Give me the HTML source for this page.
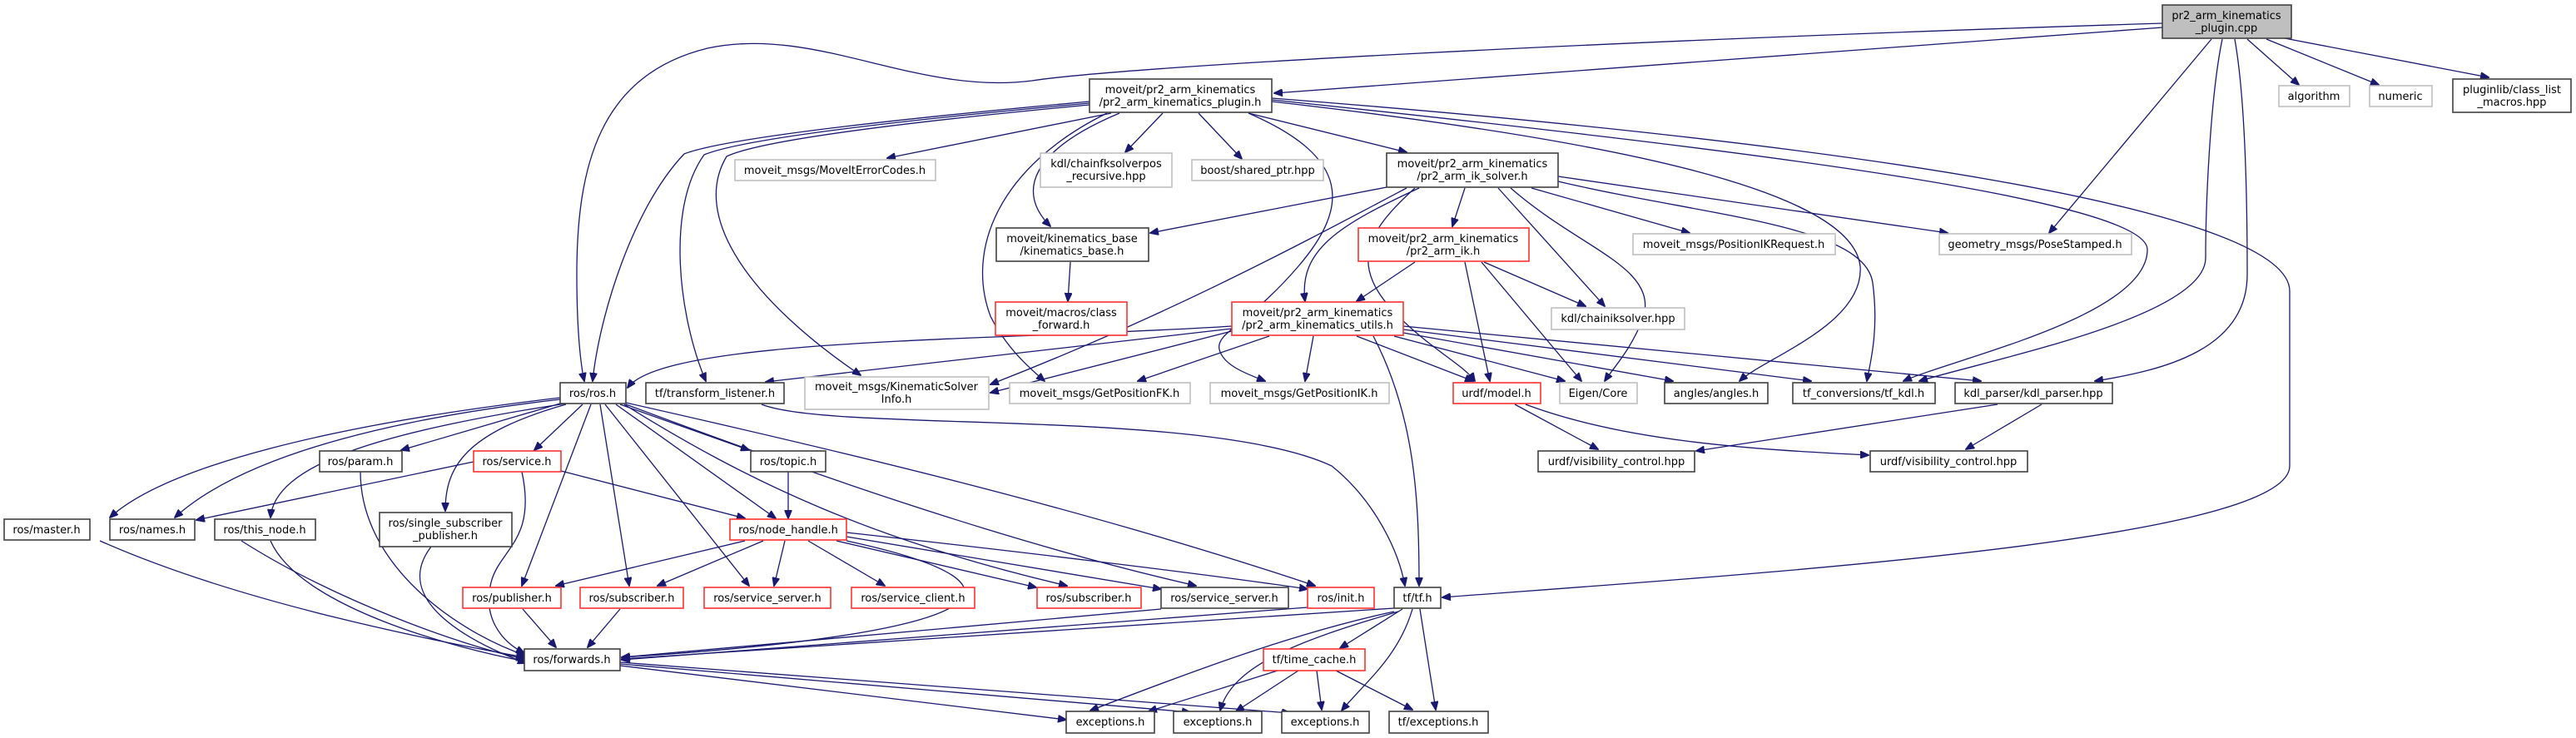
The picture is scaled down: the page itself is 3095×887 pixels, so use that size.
<!DOCTYPE html>
<html><head><meta charset="utf-8"><style>
html,body{margin:0;padding:0;background:#fff;}
svg{display:block;}
text{font-family:"DejaVu Sans","Liberation Sans",sans-serif;font-size:13px;fill:#000;text-anchor:middle;}
.e{fill:none;stroke:#191970;stroke-width:1.3;marker-end:url(#a);}
.k{fill:#fff;stroke:#404040;stroke-width:1.6;}
.r{fill:#fff;stroke:#ff3030;stroke-width:1.6;}
.g{fill:#fff;stroke:#bfbfbf;stroke-width:1.6;}
</style></head><body>
<svg width="3095" height="887" viewBox="0 0 3095 887" xmlns="http://www.w3.org/2000/svg">
<defs><marker id="a" markerWidth="11" markerHeight="9" refX="10" refY="4.5" orient="auto" markerUnits="userSpaceOnUse"><path d="M0,0 L11,4.5 L0,9 Z" fill="#191970" stroke="#191970"/></marker></defs>
<g>
<path class="e" d="M2598,33 L1531,112"/>
<path class="e" d="M2598,28 C1900,50 1350,80 1240,97 C1100,115 980,30 850,58 C720,90 693,200 693,330 C693,400 698,440 702,458"/>
<path class="e" d="M2657,47 L2462,280"/>
<path class="e" d="M2670,47 C2655,120 2650,250 2650,310 C2650,380 2400,430 2306,458"/>
<path class="e" d="M2685,47 C2698,120 2700,250 2700,330 C2700,420 2600,445 2517,458"/>
<path class="e" d="M2700,47 L2762,102"/>
<path class="e" d="M2723,47 L2858,102"/>
<path class="e" d="M2745,46 L2990,93"/>
<path class="e" d="M1528,118 C2200,170 2751,250 2751,350 L2751,560 C2751,650 2100,690 1733,718"/>
<path class="e" d="M1335,136 L1066,190"/>
<path class="e" d="M1397,136 L1352,183"/>
<path class="e" d="M1440,136 L1492,191"/>
<path class="e" d="M1500,136 L1690,183"/>
<path class="e" d="M1345,136 C1240,180 1220,230 1262,272"/>
<path class="e" d="M1309,122 C1000,150 860,170 822,185 C760,250 720,380 712,458"/>
<path class="e" d="M1309,124 C1000,152 880,172 846,186 C800,250 815,380 848,458"/>
<path class="e" d="M1309,126 C1000,155 900,175 873,188 C830,260 900,360 1034,451"/>
<path class="e" d="M1330,136 C1200,200 1160,300 1190,380 C1210,420 1240,445 1255,458"/>
<path class="e" d="M1500,136 C1625,190 1620,250 1560,320 C1500,390 1460,400 1465,420 C1470,440 1500,450 1520,458"/>
<path class="e" d="M1528,122 C1950,170 2225,230 2235,320 C2240,390 2120,430 2090,458"/>
<path class="e" d="M1528,120 C2100,180 2580,240 2580,300 C2580,380 2350,430 2287,458"/>
<path class="e" d="M1666,225 L1382,280"/>
<path class="e" d="M1760,226 L1745,272"/>
<path class="e" d="M1800,226 L1928,368"/>
<path class="e" d="M1840,226 L2030,280"/>
<path class="e" d="M1872,212 L2340,280"/>
<path class="e" d="M1872,218 C2050,260 2240,270 2250,340 C2258,400 2246,440 2243,458"/>
<path class="e" d="M1815,226 C1900,300 1990,320 1975,380 C1960,420 1940,440 1928,458"/>
<path class="e" d="M1700,226 C1640,280 1620,320 1680,380 C1720,420 1760,440 1772,458"/>
<path class="e" d="M1705,226 C1610,270 1560,300 1568,362"/>
<path class="e" d="M1690,226 C1550,300 1400,380 1190,462"/>
<path class="e" d="M1286,315 L1283,362"/>
<path class="e" d="M1700,315 L1630,362"/>
<path class="e" d="M1760,315 L1790,458"/>
<path class="e" d="M1780,315 L1900,458"/>
<path class="e" d="M1783,315 L1905,368"/>
<path class="e" d="M1480,392 C1200,410 800,405 754,466"/>
<path class="e" d="M1480,395 L920,459"/>
<path class="e" d="M1480,398 L1190,472"/>
<path class="e" d="M1525,404 L1367,458"/>
<path class="e" d="M1578,404 L1568,458"/>
<path class="e" d="M1630,404 L1770,458"/>
<path class="e" d="M1675,404 L1880,458"/>
<path class="e" d="M1686,400 L2010,458"/>
<path class="e" d="M1686,396 L2176,458"/>
<path class="e" d="M1686,392 L2380,458"/>
<path class="e" d="M1650,404 C1700,500 1705,600 1705,704"/>
<path class="e" d="M1820,486 L1920,540"/>
<path class="e" d="M1833,486 C1950,530 2100,540 2245,547"/>
<path class="e" d="M2400,486 L2038,542"/>
<path class="e" d="M2453,486 L2362,540"/>
<path class="e" d="M915,486 C1000,520 1450,490 1600,560 C1650,600 1680,660 1688,704"/>
<path class="e" d="M673,478 C400,510 200,560 132,622"/>
<path class="e" d="M673,480 C500,500 300,540 210,622"/>
<path class="e" d="M680,485 C450,520 330,560 325,622"/>
<path class="e" d="M673,485 L482,541"/>
<path class="e" d="M700,486 L642,541"/>
<path class="e" d="M680,486 C560,520 535,560 535,614"/>
<path class="e" d="M710,486 L627,704"/>
<path class="e" d="M721,486 L756,704"/>
<path class="e" d="M727,486 L900,704"/>
<path class="e" d="M740,486 L932,623"/>
<path class="e" d="M745,486 L900,541"/>
<path class="e" d="M750,486 C900,580 1050,650 1282,704"/>
<path class="e" d="M752,486 C950,560 1200,650 1437,704"/>
<path class="e" d="M752,484 C1000,540 1300,610 1580,704"/>
<path class="e" d="M569,555 L236,625"/>
<path class="e" d="M674,566 L895,623"/>
<path class="e" d="M627,567 C645,650 600,660 590,700 C580,740 600,770 630,785"/>
<path class="e" d="M947,567 L947,623"/>
<path class="e" d="M895,650 L668,704"/>
<path class="e" d="M917,650 L790,704"/>
<path class="e" d="M943,650 L930,704"/>
<path class="e" d="M971,650 L1063,704"/>
<path class="e" d="M1005,650 L1245,706"/>
<path class="e" d="M1017,645 L1395,708"/>
<path class="e" d="M1017,640 C1200,660 1450,690 1571,708"/>
<path class="e" d="M1017,650 C1250,700 1220,760 747,790"/>
<path class="e" d="M628,732 L668,778"/>
<path class="e" d="M745,732 L706,778"/>
<path class="e" d="M1395,732 L747,790"/>
<path class="e" d="M1571,730 L747,793"/>
<path class="e" d="M120,650 C300,730 550,775 630,790"/>
<path class="e" d="M290,650 C400,720 550,775 630,792"/>
<path class="e" d="M325,650 C360,730 550,780 632,795"/>
<path class="e" d="M433,567 C433,680 550,760 632,788"/>
<path class="e" d="M518,657 C470,720 560,770 632,797"/>
<path class="e" d="M745,800 L1281,865"/>
<path class="e" d="M745,798 L1430,856"/>
<path class="e" d="M745,796 L1550,857"/>
<path class="e" d="M1675,731 L747,792"/>
<path class="e" d="M1685,732 L1610,779"/>
<path class="e" d="M1675,735 C1560,760 1450,800 1310,854"/>
<path class="e" d="M1680,735 C1560,770 1480,800 1466,854"/>
<path class="e" d="M1697,732 C1680,790 1640,820 1612,854"/>
<path class="e" d="M1706,732 L1725,853"/>
<path class="e" d="M1535,806 L1380,855"/>
<path class="e" d="M1560,806 L1485,855"/>
<path class="e" d="M1582,806 L1588,853"/>
<path class="e" d="M1605,806 L1697,853"/>
</g>
<g>
<rect x="2598" y="6" width="155" height="40" fill="#bfbfbf" stroke="#404040" stroke-width="1.6"/>
<text x="2675" y="23">pr2_arm_kinematics</text><text x="2675" y="38">_plugin.cpp</text>
<rect class="k" x="1309" y="95" width="219" height="40"/><text x="1418" y="112">moveit/pr2_arm_kinematics</text><text x="1418" y="127">/pr2_arm_kinematics_plugin.h</text>
<rect class="k" x="2947" y="95" width="142" height="40"/><text x="3018" y="112">pluginlib/class_list</text><text x="3018" y="127">_macros.hpp</text>
<rect class="g" x="2738" y="103" width="85" height="25"/><text x="2780" y="120">algorithm</text>
<rect class="g" x="2847" y="103" width="75" height="25"/><text x="2884" y="120">numeric</text>
<rect class="g" x="883" y="192" width="241" height="25"/><text x="1003" y="209">moveit_msgs/MoveItErrorCodes.h</text>
<rect class="g" x="1250" y="184" width="158" height="41"/><text x="1329" y="201">kdl/chainfksolverpos</text><text x="1329" y="216">_recursive.hpp</text>
<rect class="g" x="1432" y="192" width="158" height="25"/><text x="1511" y="209">boost/shared_ptr.hpp</text>
<rect class="k" x="1666" y="184" width="206" height="41"/><text x="1769" y="201">moveit/pr2_arm_kinematics</text><text x="1769" y="216">/pr2_arm_ik_solver.h</text>
<rect class="k" x="1197" y="274" width="183" height="40"/><text x="1288" y="291">moveit/kinematics_base</text><text x="1288" y="306">/kinematics_base.h</text>
<rect class="r" x="1632" y="274" width="205" height="40"/><text x="1734" y="291">moveit/pr2_arm_kinematics</text><text x="1734" y="306">/pr2_arm_ik.h</text>
<rect class="g" x="1962" y="281" width="243" height="25"/><text x="2083" y="298">moveit_msgs/PositionIKRequest.h</text>
<rect class="g" x="2330" y="281" width="231" height="25"/><text x="2445" y="298">geometry_msgs/PoseStamped.h</text>
<rect class="r" x="1196" y="363" width="158" height="40"/><text x="1275" y="380">moveit/macros/class</text><text x="1275" y="395">_forward.h</text>
<rect class="r" x="1480" y="363" width="206" height="40"/><text x="1583" y="380">moveit/pr2_arm_kinematics</text><text x="1583" y="395">/pr2_arm_kinematics_utils.h</text>
<rect class="g" x="1864" y="370" width="160" height="26"/><text x="1944" y="387">kdl/chainiksolver.hpp</text>
<rect class="k" x="673" y="460" width="79" height="25"/><text x="712" y="477">ros/ros.h</text>
<rect class="k" x="776" y="460" width="166" height="25"/><text x="859" y="477">tf/transform_listener.h</text>
<rect class="g" x="967" y="453" width="221" height="39"/><text x="1077" y="469">moveit_msgs/KinematicSolver</text><text x="1077" y="484">Info.h</text>
<rect class="g" x="1213" y="460" width="217" height="25"/><text x="1321" y="477">moveit_msgs/GetPositionFK.h</text>
<rect class="g" x="1454" y="460" width="215" height="25"/><text x="1561" y="477">moveit_msgs/GetPositionIK.h</text>
<rect class="r" x="1746" y="460" width="105" height="25"/><text x="1798" y="477">urdf/model.h</text>
<rect class="g" x="1874" y="460" width="93" height="25"/><text x="1920" y="477">Eigen/Core</text>
<rect class="k" x="2000" y="460" width="124" height="25"/><text x="2062" y="477">angles/angles.h</text>
<rect class="k" x="2154" y="460" width="171" height="25"/><text x="2239" y="477">tf_conversions/tf_kdl.h</text>
<rect class="k" x="2349" y="460" width="189" height="25"/><text x="2443" y="477">kdl_parser/kdl_parser.hpp</text>
<rect class="k" x="1848" y="542" width="188" height="25"/><text x="1942" y="559">urdf/visibility_control.hpp</text>
<rect class="k" x="2247" y="542" width="189" height="25"/><text x="2341" y="559">urdf/visibility_control.hpp</text>
<rect class="k" x="384" y="542" width="99" height="25"/><text x="433" y="559">ros/param.h</text>
<rect class="r" x="569" y="542" width="105" height="25"/><text x="621" y="559">ros/service.h</text>
<rect class="k" x="902" y="542" width="90" height="25"/><text x="947" y="559">ros/topic.h</text>
<rect class="k" x="5" y="624" width="103" height="25"/><text x="56" y="641">ros/master.h</text>
<rect class="k" x="132" y="624" width="102" height="25"/><text x="183" y="641">ros/names.h</text>
<rect class="k" x="258" y="624" width="121" height="25"/><text x="318" y="641">ros/this_node.h</text>
<rect class="k" x="456" y="616" width="159" height="41"/><text x="535" y="633">ros/single_subscriber</text><text x="535" y="648">_publisher.h</text>
<rect class="r" x="877" y="624" width="140" height="25"/><text x="947" y="641">ros/node_handle.h</text>
<rect class="r" x="556" y="706" width="118" height="25"/><text x="615" y="723">ros/publisher.h</text>
<rect class="r" x="697" y="706" width="124" height="25"/><text x="759" y="723">ros/subscriber.h</text>
<rect class="r" x="846" y="706" width="152" height="25"/><text x="922" y="723">ros/service_server.h</text>
<rect class="r" x="1023" y="706" width="148" height="25"/><text x="1097" y="723">ros/service_client.h</text>
<rect class="r" x="1246" y="706" width="125" height="25"/><text x="1308" y="723">ros/subscriber.h</text>
<rect class="k" x="1395" y="706" width="153" height="25"/><text x="1471" y="723">ros/service_server.h</text>
<rect class="r" x="1571" y="706" width="80" height="25"/><text x="1611" y="723">ros/init.h</text>
<rect class="k" x="1675" y="706" width="56" height="25"/><text x="1703" y="723">tf/tf.h</text>
<rect class="k" x="630" y="780" width="115" height="26"/><text x="687" y="797">ros/forwards.h</text>
<rect class="r" x="1518" y="780" width="122" height="26"/><text x="1579" y="797">tf/time_cache.h</text>
<rect class="k" x="1281" y="855" width="106" height="26"/><text x="1334" y="872">exceptions.h</text>
<rect class="k" x="1410" y="855" width="106" height="26"/><text x="1463" y="872">exceptions.h</text>
<rect class="k" x="1540" y="855" width="105" height="26"/><text x="1592" y="872">exceptions.h</text>
<rect class="k" x="1669" y="855" width="119" height="26"/><text x="1728" y="872">tf/exceptions.h</text>
</g>
</svg>
</body></html>
